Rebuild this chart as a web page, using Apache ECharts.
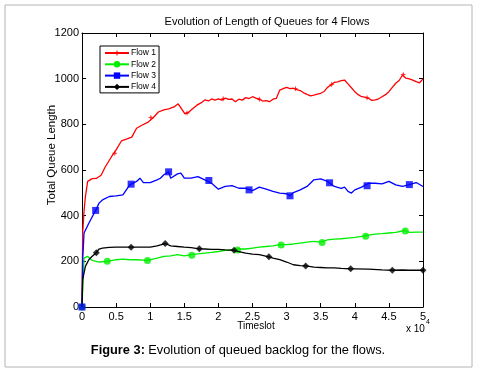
<!DOCTYPE html>
<html>
<head>
<meta charset="utf-8">
<script src="https://cdn.jsdelivr.net/npm/echarts@6/dist/echarts.min.js"></script>
<style>
  html, body { margin: 0; padding: 0; background: #fff; }
  #chart { width: 489px; height: 377px; }
</style>
</head>
<body>
<div id="chart"></div>
<script>
// ---------- data: [timeslot, queue length] ----------
var flow1 = [[0,0],[100,324],[300,420],[500,484],[830,550],[1500,562],[2100,563],[2800,577],[3400,613],[4300,657],[5000,688],[5800,728],[6500,735],[7300,744],[8000,783],[8700,795],[9700,810],[10400,828],[11200,854],[12000,863],[12700,868],[13500,876],[14100,890],[14600,868],[15100,846],[15600,852],[16000,863],[16800,883],[17500,895],[18000,907],[18600,903],[19000,911],[19500,906],[20000,911],[20500,906],[21000,915],[21500,909],[22000,911],[22500,899],[23000,910],[23500,906],[24000,917],[24500,913],[25000,921],[25500,915],[26000,910],[26500,902],[27000,904],[27500,899],[28000,910],[28500,914],[29000,950],[29500,956],[30000,962],[30500,956],[31000,958],[31500,952],[32000,948],[32500,938],[33000,931],[33500,925],[34000,928],[34500,932],[35000,936],[35500,944],[36000,962],[36500,972],[37000,984],[37500,986],[38000,991],[38500,994],[39000,977],[39500,960],[40000,943],[40500,930],[41000,921],[41500,919],[42000,914],[42500,905],[43000,907],[43500,912],[44000,921],[44500,930],[45000,943],[45500,962],[46000,980],[46500,992],[47000,1016],[47500,1002],[48000,999],[48500,994],[49000,987],[49500,982],[50000,999]];
var flow2 = [[0,0],[300,214],[800,222],[1500,204],[2500,197],[3700,200],[5000,207],[6000,210],[7000,207],[8000,207],[9600,204],[11000,214],[12000,222],[13000,224],[14000,229],[15000,224],[16000,229],[17000,233],[18000,236],[19000,239],[20000,243],[21000,248],[22000,251],[23000,254],[24000,254],[25000,258],[26000,262],[27000,265],[28000,268],[29000,273],[30000,273],[31000,276],[32000,280],[33000,284],[34000,287],[35000,284],[36000,294],[37000,297],[38000,299],[39000,302],[40000,305],[41000,309],[41500,312],[42000,315],[43000,319],[44000,321],[45000,324],[46000,327],[47300,335],[48000,327],[49000,328],[50000,328]];
var flow3 = [[0,0],[100,207],[300,324],[1000,367],[2000,423],[2500,455],[3000,469],[4000,484],[5000,487],[6000,491],[6500,513],[7000,535],[8000,550],[8500,564],[9000,545],[10000,545],[11000,557],[11500,564],[12000,579],[12700,592],[13000,564],[14000,583],[14500,586],[15000,564],[16000,564],[17000,571],[18000,557],[19000,542],[20000,516],[21000,528],[22000,532],[23000,520],[24000,520],[25000,510],[26000,525],[27000,516],[28000,506],[29000,499],[30000,496],[30500,487],[31000,501],[32000,513],[33000,528],[34000,557],[35000,561],[36000,550],[37000,528],[38000,520],[38500,525],[39000,506],[39500,499],[40000,513],[41000,525],[42000,542],[43000,542],[44000,539],[45000,550],[46000,535],[47000,528],[48000,536],[49000,545],[50000,528]];
var flow4 = [[0,0],[100,120],[500,178],[1000,207],[1500,222],[2100,238],[2500,254],[3000,258],[4000,261],[5000,262],[6000,262],[7200,262],[8000,262],[9000,262],[10000,262],[11000,268],[12200,278],[13000,268],[14000,265],[15000,262],[16000,260],[17200,255],[18000,254],[19000,252],[20000,252],[21000,250],[22300,248],[23000,243],[24000,236],[25000,232],[26000,229],[27400,220],[28000,214],[29000,207],[30000,197],[31000,185],[32000,181],[32800,180],[33000,178],[34000,175],[35000,173],[36000,171],[37000,171],[38000,169],[39400,167],[40000,167],[42000,166],[44000,163],[45500,161],[47000,162],[48000,161],[50000,161]];

// marker positions (MATLAB style, every few thousand slots)
var flow1Marks = [[4800,673],[10100,830],[15400,850],[20700,912],[26000,910],[31300,956],[36600,975],[41800,916],[47100,1018]];
var flow2Marks = [[0,0],[3700,200],[9600,204],[16100,227],[22800,250],[29200,271],[35200,283],[41600,310],[47400,333]];
var flow3Marks = [[0,0],[2000,423],[7200,538],[12700,592],[18600,554],[24500,513],[30500,487],[36300,544],[41800,531],[48000,536]];
var flow4Marks = [[2100,238],[7200,262],[12200,278],[17200,255],[22300,248],[27400,220],[32800,180],[39400,167],[45500,161],[50000,161]];

var flowNames = ['Flow 1', 'Flow 2', 'Flow 3', 'Flow 4'];
var xTicks = [0, 0.5, 1, 1.5, 2, 2.5, 3, 3.5, 4, 4.5, 5]; // x 10^4

var starPath = 'path://M0,-10L2.5,-2.5L10,0L2.5,2.5L0,10L-2.5,2.5L-10,0L-2.5,-2.5Z';
var colors = ['#ff0000', '#00ee00', '#0000ff', '#000000'];
var symbols = [starPath, 'circle', 'rect', 'diamond'];
var symSizes = [6, 7, 7, 7];
var lines = [flow1, flow2, flow3, flow4];
var marks = [flow1Marks, flow2Marks, flow3Marks, flow4Marks];

var font = 'Liberation Sans, Arial, sans-serif';

var series = [];
lines.forEach(function (d, i) {
  series.push({
    name: flowNames[i],
    type: 'line',
    data: d,
    symbol: symbols[i],
    showSymbol: false,
    lineStyle: {color: colors[i], width: 1.3},
    itemStyle: {color: colors[i]},
    silent: true,
    z: 2 + i
  });
});
marks.forEach(function (d, i) {
  series.push({
    name: flowNames[i] + ' mk',
    type: 'scatter',
    data: d,
    symbol: symbols[i],
    symbolSize: symSizes[i],
    itemStyle: {color: colors[i]},
    silent: true,
    z: 3 + i
  });
});

// box axes: ticks point inward on all four sides
function boxAxis(pos, min, max, step, labels) {
  return {
    type: 'value', position: pos, min: min, max: max, interval: step,
    axisLine: {show: true, onZero: false, lineStyle: {color: '#000', width: 1}},
    axisTick: {show: true, inside: true, length: 4, lineStyle: {color: '#000'}},
    axisLabel: labels || {show: false},
    splitLine: {show: false}
  };
}

var chart = echarts.init(document.getElementById('chart'));
chart.setOption({
  animation: false,
  backgroundColor: '#fff',
  grid: {left: 82, right: 66, top: 33, bottom: 70},
  legend: {
    data: flowNames,
    orient: 'vertical',
    left: 100,
    top: 46,
    padding: [2, 3, 1, 4],
    itemWidth: 24,
    itemHeight: 8,
    itemGap: 1.3,
    borderColor: '#000',
    borderWidth: 1,
    textStyle: {fontFamily: font, fontSize: 8.5, color: '#000', lineHeight: 10, padding: [0, 0, 0, -3]}
  },
  xAxis: [
    boxAxis('bottom', 0, 50000, 5000, {
      color: '#000', fontFamily: font, fontSize: 11, margin: 4,
      formatter: function (v) { return String(xTicks[Math.round(v / 5000)]); }
    }),
    boxAxis('top', 0, 50000, 5000)
  ],
  yAxis: [
    boxAxis('left', 0, 1200, 200, {
      color: '#000', fontFamily: font, fontSize: 11, margin: 3,
      formatter: function (v) { return String(v); }
    }),
    boxAxis('right', 0, 1200, 200)
  ],
  graphic: [
    {type: 'rect', shape: {x: 5, y: 5, width: 467, height: 362}, style: {fill: 'none', stroke: '#b4b4b4', lineWidth: 1}, silent: true},
    {type: 'text', style: {text: 'Evolution of Length of Queues for 4 Flows', x: 267, y: 22, align: 'center', verticalAlign: 'middle', font: '11px ' + font, fill: '#000'}},
    {type: 'text', rotation: Math.PI / 2, x: 52, y: 155, style: {text: 'Total Queue Length', x: 0, y: 0, align: 'center', verticalAlign: 'middle', font: '11.5px ' + font, fill: '#000'}},
    {type: 'text', style: {text: 'Timeslot', x: 256, y: 326, align: 'center', verticalAlign: 'middle', font: '10px ' + font, fill: '#000'}},
    {type: 'text', style: {text: 'x 10', x: 406, y: 329, align: 'left', verticalAlign: 'middle', font: '10px ' + font, fill: '#000'}},
    {type: 'text', style: {text: '4', x: 426, y: 322, align: 'left', verticalAlign: 'middle', font: '7px ' + font, fill: '#000'}},
    {type: 'text', style: {
      text: '{b|Figure 3:} {n|Evolution of queued backlog for the flows.}',
      x: 238, y: 350, align: 'center', verticalAlign: 'middle',
      rich: {
        b: {font: 'bold 12.8px ' + font, fill: '#000'},
        n: {font: '12.8px ' + font, fill: '#000'}
      }
    }}
  ],
  series: series
});
</script>
</body>
</html>
